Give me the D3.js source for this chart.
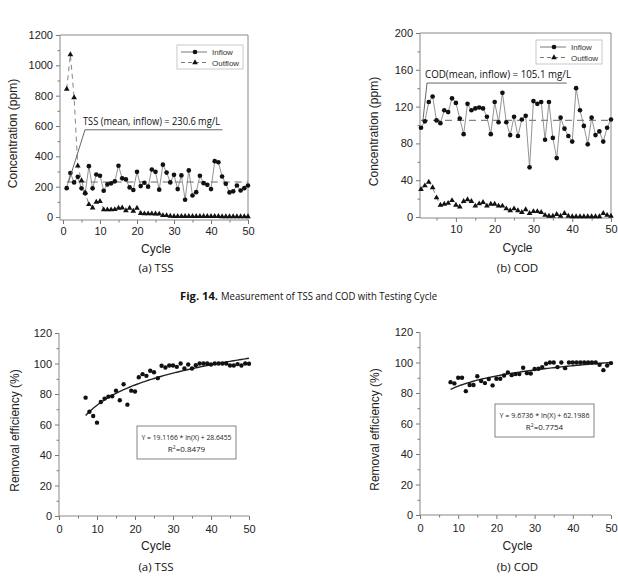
<!DOCTYPE html>
<html>
<head>
<meta charset="utf-8">
<script src="https://cdn.jsdelivr.net/npm/d3@7"></script>
<style>
  body { margin: 0; background: #fff; }
  svg { display: block; }
  .tick text { font-family: "Liberation Sans", Arial, sans-serif; font-size: 11px; fill: #222; }
  .tick line { stroke: #777; }
</style>
</head>
<body>
<svg width="618" height="581"></svg>
<script>
"use strict";

// cycles 1..50
const cycles = [1,2,3,4,5,6,7,8,9,10,11,12,13,14,15,16,17,18,19,20,21,22,23,24,25,
  26,27,28,29,30,31,32,33,34,35,36,37,38,39,40,41,42,43,44,45,46,47,48,49,50];

const tssInflow = [190,290,228,265,189,156,335,189,280,272,173,215,222,235,338,255,248,195,178,298,
  204,226,200,313,298,180,345,293,228,278,184,274,114,307,142,164,272,223,212,184,
  368,361,267,219,162,169,208,175,190,208];
const tssOutflow = [843,1071,788,337,240,160,83,61,98,103,48,48,48,50,59,61,42,59,39,59,
  24,22,22,22,21,20,10,10,6,5,5,5,5,5,4,4,4,4,4,4,4,4,3,3,3,3,3,3,3,3];
const tssMean = 230.6;

const codInflow = [97,104,125,131,105,102,116,114,129,124,107,90,123,116,118,119,118,109,90,125,
  103,135,103,89,109,88,106,110,54,126,123,125,84,125,86,64,108,96,88,82,
  140,116,99,79,108,89,93,82,97,106];
const codOutflow = [30,34,38,32,21,13,14,15,18,13,11,17,19,17,12,14.5,16,12,14,14,
  12,12,9,7,9,7,5,8,4,6,6,5,2,1,1,3,1,4,1,0.5,0.5,0.5,0.5,0.5,0.5,0.5,0.5,4,2,1];
const codMean = 105.1;

const tssRemCycles = [7,8,9,10,11,12,13,14,15,16,17,18,19,20,21,22,23,24,25,26,27,28,
  29,30,31,32,33,34,35,36,37,38,39,40,41,42,43,44,45,46,47,48,49,50];
const tssRemoval = [77.6,68.4,65.6,61.2,74.8,77,78.3,78.5,82.2,75.9,86.4,73,82.2,81.6,91,93,
  91.9,95.2,94.3,90.4,98.5,97.4,98.7,98.7,97.8,100,96.7,99.3,96.7,98.9,100,100,100,99.3,
  100,100,100,100,98.7,98.7,99.6,98.7,100,99.8];
const tssFit = [19.1166, 28.6455];

const codRemCycles = [8,9,10,11,12,13,14,15,16,17,18,19,20,21,22,23,24,25,26,27,28,
  29,30,31,32,33,34,35,36,37,38,39,40,41,42,43,44,45,46,47,48,49,50];
const codRemoval = [87.1,86.3,90,90,81.2,85.2,85.2,91,87.8,86.5,89.1,85,89.3,89.3,91.5,93.5,
  91.7,92.4,92.4,96.6,93,92.8,95.7,95.9,97,99.2,100,100,97,100,96.3,100,100,100,100,100,
  100,100,100,98.5,95,98,99.6];
const codFit = [9.6736, 62.1986];

const svg = d3.select("svg");
const labelFont = '"Liberation Sans", Arial, sans-serif';
const noteFont = '"Open Sans", "Noto Sans", sans-serif';

const drawAxes = (g, x, y, o) => {
  const left = o.frame[0], right = o.frame[1], top = o.frame[2], bottom = o.frame[3];

  // minor ticks first, then majors
  g.append("g").attr("transform", `translate(0,${bottom})`)
    .call(d3.axisBottom(x).tickValues(o.xMinor).tickSize(2.5).tickFormat(""))
    .call((s) => s.select(".domain").remove());
  g.append("g").attr("transform", `translate(${left},0)`)
    .call(d3.axisLeft(y).tickValues(o.yMinor).tickSize(2.5).tickFormat(""))
    .call((s) => s.select(".domain").remove());
  g.append("g").attr("transform", `translate(0,${bottom})`)
    .call(d3.axisBottom(x).tickValues(o.xTicks).tickSize(4).tickPadding(o.xPad).tickFormat(d3.format("d")))
    .call((s) => s.select(".domain").remove());
  g.append("g").attr("transform", `translate(${left},0)`)
    .call(d3.axisLeft(y).tickValues(o.yTicks).tickSize(4).tickPadding(3).tickFormat(d3.format("d")))
    .call((s) => s.select(".domain").remove());

  const edges = o.box
    ? [[left, top, left, bottom], [left, bottom, right, bottom], [left, top, right, top], [right, top, right, bottom]]
    : [[left, top, left, bottom], [left, bottom, right, bottom]];
  g.selectAll("line.frame").data(edges).enter().append("line")
    .attr("class", "frame")
    .attr("x1", (d) => d[0]).attr("y1", (d) => d[1])
    .attr("x2", (d) => d[2]).attr("y2", (d) => d[3])
    .attr("stroke", "#888").attr("stroke-width", 1);

  g.append("text")
    .attr("transform", `translate(${o.yLabelX},${(top + bottom) / 2 + 6}) rotate(-90)`)
    .attr("text-anchor", "middle")
    .attr("font-family", labelFont).attr("font-size", 12).attr("fill", "#222")
    .text(o.yLabel);
  g.append("text")
    .attr("x", (left + right) / 2 + 2).attr("y", o.xLabelY)
    .attr("text-anchor", "middle")
    .attr("font-family", labelFont).attr("font-size", 12).attr("fill", "#222")
    .text("Cycle");
  g.append("text")
    .attr("x", (left + right) / 2 + 2).attr("y", o.captionY)
    .attr("text-anchor", "middle")
    .attr("font-family", noteFont).attr("font-size", 11.5).attr("fill", "#111")
    .text(o.caption);
};

const circle = d3.symbol().type(d3.symbolCircle).size(17);
const triangle = d3.symbol().type(d3.symbolTriangle).size(14);

const drawConcentration = (o) => {
  const g = svg.append("g");
  const x = d3.scaleLinear().domain(o.xDomain).range(o.xRange);
  const y = d3.scaleLinear().domain(o.yDomain).range(o.yRange);
  drawAxes(g, x, y, o);

  const line = d3.line().x((d) => x(d[0])).y((d) => y(d[1]));
  const inflow = cycles.map((c, i) => [c, o.inflow[i]]);
  const outflow = cycles.map((c, i) => [c, o.outflow[i]]);

  // mean line
  g.append("path")
    .attr("d", line([[cycles[0], o.mean], [cycles[cycles.length - 1], o.mean]]))
    .attr("fill", "none").attr("stroke", "#555").attr("stroke-width", 0.9)
    .attr("stroke-dasharray", "7,5");

  g.append("path").attr("d", line(outflow))
    .attr("fill", "none").attr("stroke", "#666").attr("stroke-width", 0.8)
    .attr("stroke-dasharray", "5,4");
  g.append("path").attr("d", line(inflow))
    .attr("fill", "none").attr("stroke", "#777").attr("stroke-width", 0.8);

  g.selectAll("path.tri").data(outflow).enter().append("path")
    .attr("class", "tri")
    .attr("d", triangle)
    .attr("transform", (d) => `translate(${x(d[0])},${y(d[1])})`)
    .attr("fill", "#111");
  g.selectAll("path.dot").data(inflow).enter().append("path")
    .attr("class", "dot")
    .attr("d", circle)
    .attr("transform", (d) => `translate(${x(d[0])},${y(d[1])})`)
    .attr("fill", "#111");

  // annotation pointer and text
  g.append("path").attr("d", line(o.note))
    .attr("fill", "none").attr("stroke", "#555").attr("stroke-width", 0.9);
  g.append("text")
    .attr("x", x(o.note[1][0]) - 2).attr("y", y(o.note[1][1]) - 5)
    .attr("font-family", noteFont).attr("font-size", 11.5).attr("fill", "#111")
    .attr("textLength", o.noteWidth).attr("lengthAdjust", "spacingAndGlyphs")
    .text(o.noteText);

  // legend
  const lg = g.append("g").attr("transform", `translate(${o.legend[0]},${o.legend[1]})`);
  lg.append("rect").attr("width", 66).attr("height", 24)
    .attr("fill", "#fff").attr("stroke", "#bbb").attr("stroke-width", 0.8);
  const rows = [["Inflow", null, circle], ["Outflow", "4,3", triangle]];
  rows.forEach((r, i) => {
    const ry = 7 + i * 10.5;
    lg.append("line").attr("x1", 4).attr("x2", 30).attr("y1", ry).attr("y2", ry)
      .attr("stroke", "#555").attr("stroke-width", 0.8)
      .attr("stroke-dasharray", r[1]);
    lg.append("path").attr("d", r[2]).attr("transform", `translate(18,${ry})`).attr("fill", "#111");
    lg.append("text").attr("x", 35).attr("y", ry + 3)
      .attr("font-family", labelFont).attr("font-size", 8).attr("fill", "#333")
      .text(r[0]);
  });
};

const drawRemoval = (o) => {
  const g = svg.append("g");
  const x = d3.scaleLinear().domain(o.xDomain).range(o.xRange);
  const y = d3.scaleLinear().domain(o.yDomain).range(o.yRange);
  drawAxes(g, x, y, o);

  const fitX = d3.range(o.cycles[0], 50.01, 0.5);
  const line = d3.line().x((d) => x(d)).y((d) => y(o.fit[0] * Math.log(d) + o.fit[1]));
  g.append("path").attr("d", line(fitX))
    .attr("fill", "none").attr("stroke", "#222").attr("stroke-width", 1.4);

  g.selectAll("circle.pt").data(o.cycles).enter().append("circle")
    .attr("class", "pt")
    .attr("cx", (d) => x(d)).attr("cy", (d, i) => y(o.values[i]))
    .attr("r", 2.2).attr("fill", "#111");

  const b = o.boxPos;
  const bg = g.append("g").attr("transform", `translate(${b[0]},${b[1]})`);
  bg.append("rect").attr("width", 99).attr("height", 33)
    .attr("fill", "#fff").attr("stroke", "#777").attr("stroke-width", 0.9);
  bg.append("text").attr("x", 49.5).attr("y", 13.5).attr("text-anchor", "middle")
    .attr("font-family", noteFont).attr("font-size", 8).attr("fill", "#222")
    .attr("textLength", 90).attr("lengthAdjust", "spacingAndGlyphs")
    .text(`Y = ${o.fit[0]} * ln(X) + ${o.fit[1]}`);
  const r2 = bg.append("text").attr("x", 49.5).attr("y", 26).attr("text-anchor", "middle")
    .attr("font-family", noteFont).attr("font-size", 8).attr("fill", "#222");
  r2.append("tspan").text("R");
  r2.append("tspan").attr("dy", -3).attr("font-size", 5).text("2");
  r2.append("tspan").attr("dy", 3).text("=" + o.r2);
};

drawConcentration({
  inflow: tssInflow, outflow: tssOutflow, mean: tssMean,
  xDomain: [0, 50], xRange: [63, 248], yDomain: [0, 1200], yRange: [217, 35],
  frame: [60, 248, 35, 220], box: true,
  xTicks: [0, 10, 20, 30, 40, 50], xMinor: [5, 15, 25, 35, 45],
  yTicks: [0, 200, 400, 600, 800, 1000, 1200], yMinor: [100, 300, 500, 700, 900, 1100],
  xPad: 3,
  yLabel: "Concentration (ppm)", yLabelX: 17, xLabelY: 253,
  caption: "(a) TSS", captionY: 272,
  note: [[1.5, 230.6], [5.95, 575], [43.1, 575]],
  noteText: "TSS (mean, inflow) = 230.6 mg/L", noteWidth: 137,
  legend: [177, 45]
});

drawConcentration({
  inflow: codInflow, outflow: codOutflow, mean: codMean,
  xDomain: [1, 50], xRange: [421, 611], yDomain: [0, 200], yRange: [217, 33],
  frame: [420, 611, 33, 218], box: true,
  xTicks: [10, 20, 30, 40, 50], xMinor: [5, 15, 25, 35, 45],
  yTicks: [0, 40, 80, 120, 160, 200], yMinor: [20, 60, 100, 140, 180],
  xPad: 3,
  yLabel: "Concentration (ppm)", yLabelX: 378, xLabelY: 252,
  caption: "(b) COD", captionY: 272,
  note: [[1.5, 105.1], [2.55, 145.6], [38.6, 145.6]],
  noteText: "COD(mean, inflow) = 105.1 mg/L", noteWidth: 146,
  legend: [536, 40]
});

drawRemoval({
  cycles: tssRemCycles, values: tssRemoval, fit: tssFit, r2: "0.8479",
  xDomain: [0, 50], xRange: [59, 249], yDomain: [0, 120], yRange: [516, 333],
  frame: [59, 249, 333, 516], box: false,
  xTicks: [0, 10, 20, 30, 40, 50], xMinor: [5, 15, 25, 35, 45],
  yTicks: [0, 20, 40, 60, 80, 100, 120], yMinor: [10, 30, 50, 70, 90, 110],
  xPad: 5,
  yLabel: "Removal efficiency (%)", yLabelX: 19, xLabelY: 550,
  caption: "(a) TSS", captionY: 571,
  boxPos: [137, 426]
});

drawRemoval({
  cycles: codRemCycles, values: codRemoval, fit: codFit, r2: "0.7754",
  xDomain: [0, 50], xRange: [420, 611], yDomain: [0, 120], yRange: [515, 332],
  frame: [420, 611, 332, 515], box: false,
  xTicks: [0, 10, 20, 30, 40, 50], xMinor: [5, 15, 25, 35, 45],
  yTicks: [0, 20, 40, 60, 80, 100, 120], yMinor: [10, 30, 50, 70, 90, 110],
  xPad: 5,
  yLabel: "Removal efficiency (%)", yLabelX: 379, xLabelY: 550,
  caption: "(b) COD", captionY: 571,
  boxPos: [495, 404]
});

// figure caption: bold figure number followed by the plain title
svg.append("text")
  .attr("x", 180).attr("y", 300)
  .attr("font-family", noteFont).attr("font-size", 11).attr("font-weight", "bold").attr("fill", "#111")
  .attr("textLength", 38).attr("lengthAdjust", "spacingAndGlyphs")
  .text("Fig. 14.");
svg.append("text")
  .attr("x", 221).attr("y", 300)
  .attr("font-family", noteFont).attr("font-size", 11).attr("fill", "#111")
  .attr("textLength", 216).attr("lengthAdjust", "spacingAndGlyphs")
  .text("Measurement of TSS and COD with Testing Cycle");
</script>
</body>
</html>
